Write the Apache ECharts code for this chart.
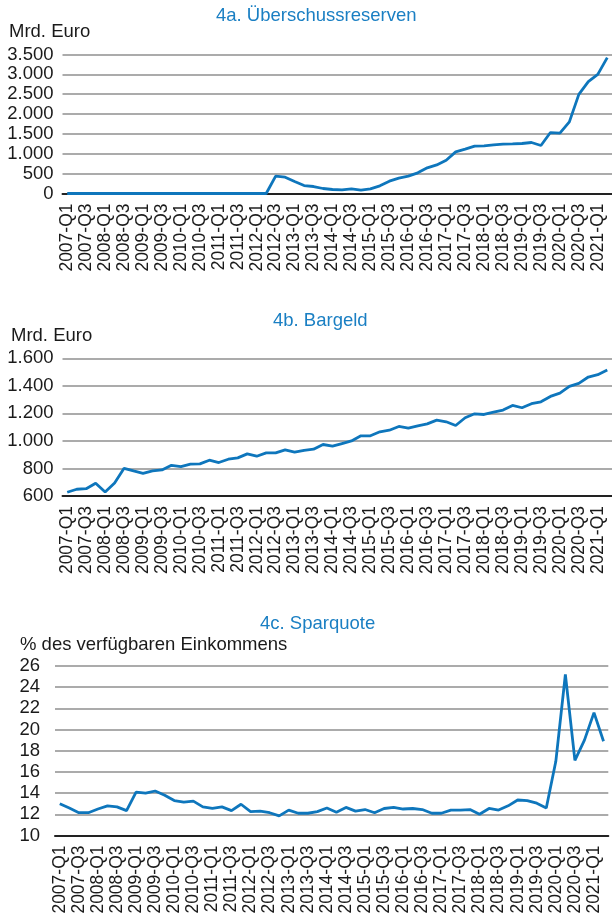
<!DOCTYPE html>
<html>
<head>
<meta charset="utf-8">
<script src="https://cdn.jsdelivr.net/npm/echarts@6/dist/echarts.min.js"></script>
<style>
  html, body { margin: 0; padding: 0; background: #fff; }
  #chart { width: 612px; height: 920px; }
</style>
</head>
<body>
<div id="chart"></div>
<script>
// Quartale 2007-Q1 bis 2021-Q2
const quarters = [
  '2007-Q1', '2007-Q2', '2007-Q3', '2007-Q4', '2008-Q1', '2008-Q2', '2008-Q3', '2008-Q4',
  '2009-Q1', '2009-Q2', '2009-Q3', '2009-Q4', '2010-Q1', '2010-Q2', '2010-Q3', '2010-Q4',
  '2011-Q1', '2011-Q2', '2011-Q3', '2011-Q4', '2012-Q1', '2012-Q2', '2012-Q3', '2012-Q4',
  '2013-Q1', '2013-Q2', '2013-Q3', '2013-Q4', '2014-Q1', '2014-Q2', '2014-Q3', '2014-Q4',
  '2015-Q1', '2015-Q2', '2015-Q3', '2015-Q4', '2016-Q1', '2016-Q2', '2016-Q3', '2016-Q4',
  '2017-Q1', '2017-Q2', '2017-Q3', '2017-Q4', '2018-Q1', '2018-Q2', '2018-Q3', '2018-Q4',
  '2019-Q1', '2019-Q2', '2019-Q3', '2019-Q4', '2020-Q1', '2020-Q2', '2020-Q3', '2020-Q4',
  '2021-Q1', '2021-Q2'
];

// 4a. Überschussreserven (Mrd. Euro)
const reserves = [
  0, 0, 0, 0, 0, 0, 0, 0, 0, 0, 0, 0, 0, 0, 0, 0, 0, 0, 0, 0, 0, 0,
  436, 411, 302, 201, 176, 126, 101, 92, 117, 84,
  117, 193, 310, 386, 436, 520, 646, 720, 839, 1049,
  1116, 1191, 1200, 1225, 1242, 1250, 1259, 1284, 1208, 1535,
  1519, 1804, 2496, 2815, 3000, 3420
];

// 4b. Bargeld (Mrd. Euro)
const cash = [
  627, 649, 653, 692, 629, 695, 801, 782, 765, 782,
  789, 823, 814, 831, 833, 860, 843, 867, 877, 906,
  889, 913, 913, 935, 918, 932, 940, 974, 962, 981,
  1000, 1037, 1037, 1066, 1078, 1105, 1093, 1110, 1124, 1151,
  1139, 1112, 1168, 1197, 1192, 1209, 1224, 1258, 1241, 1270,
  1284, 1323, 1347, 1396, 1418, 1464, 1481, 1515
];

// 4c. Sparquote (% des verfügbaren Einkommens)
const savingRate = [
  13.0, 12.6, 12.15, 12.15, 12.5, 12.8, 12.7, 12.35, 14.1, 14.0,
  14.2, 13.8, 13.3, 13.15, 13.25, 12.7, 12.55, 12.7, 12.35, 12.95,
  12.25, 12.3, 12.15, 11.85, 12.4, 12.1, 12.1, 12.25, 12.6, 12.2,
  12.65, 12.3, 12.45, 12.15, 12.55, 12.65, 12.5, 12.55, 12.45, 12.1,
  12.1, 12.4, 12.4, 12.45, 12.0, 12.55, 12.4, 12.8, 13.35, 13.3,
  13.05, 12.6, 17.0, 25.2, 17.1, 19.0, 21.6, 18.9
];

const FONT = '"Liberation Sans", Arial, Helvetica, sans-serif';
const BLUE = '#0e76bc';
const TITLE_BLUE = '#1a7fc3';
const TEXT = '#1a1a1a';

// deutsche Tausendertrennung
const fmtDE = v => String(v).replace(/\B(?=(\d{3})+(?!\d))/g, '.');

function title(text, left, top, color) {
  return {
    text, left, top, padding: 0,
    textStyle: { fontFamily: FONT, fontSize: 18.5, fontWeight: 'normal', color }
  };
}

function xAxis(gridIndex) {
  return {
    type: 'category',
    gridIndex,
    data: quarters,
    boundaryGap: true,
    axisLine: { show: true, lineStyle: { color: '#222', width: 2 } },
    axisTick: { show: false },
    axisLabel: {
      interval: 1, rotate: 90, margin: 10,
      fontFamily: FONT, fontSize: 17.5, color: TEXT
    }
  };
}

function yAxis(gridIndex, min, max, interval, margin) {
  return {
    type: 'value',
    gridIndex, min, max, interval,
    axisLine: { show: false },
    axisTick: { show: false },
    splitLine: { lineStyle: { color: '#8f8f8f', width: 1.5 } },
    axisLabel: {
      margin, fontFamily: FONT, fontSize: 18.5, color: TEXT,
      formatter: fmtDE
    }
  };
}

function series(idx, data) {
  return {
    type: 'line',
    xAxisIndex: idx, yAxisIndex: idx,
    data,
    symbol: 'none',
    lineStyle: { color: BLUE, width: 2.8 },
    animation: false
  };
}

const chart = echarts.init(document.getElementById('chart'), null, { renderer: 'canvas' });

chart.setOption({
  animation: false,
  title: [
    title('4a. Überschussreserven', 216, 6, TITLE_BLUE),
    title('Mrd. Euro', 9, 22, TEXT),
    title('4b. Bargeld', 273, 311, TITLE_BLUE),
    title('Mrd. Euro', 11, 326, TEXT),
    title('4c. Sparquote', 260, 614, TITLE_BLUE),
    title('% des verfügbaren Einkommens', 20, 635, TEXT)
  ],
  grid: [
    { left: 62.5, right: -4.5, top: 54.5, height: 139 },
    { left: 62.5, right: -4.5, top: 358.3, height: 137.7 },
    { left: 55, right: 3.7, top: 666, height: 169.5 }
  ],
  xAxis: [xAxis(0), xAxis(1), xAxis(2)],
  yAxis: [
    yAxis(0, 0, 3500, 500, 9),
    yAxis(1, 600, 1600, 200, 9),
    yAxis(2, 10, 26, 2, 15)
  ],
  series: [
    series(0, reserves),
    series(1, cash),
    series(2, savingRate)
  ]
});
</script>
</body>
</html>
